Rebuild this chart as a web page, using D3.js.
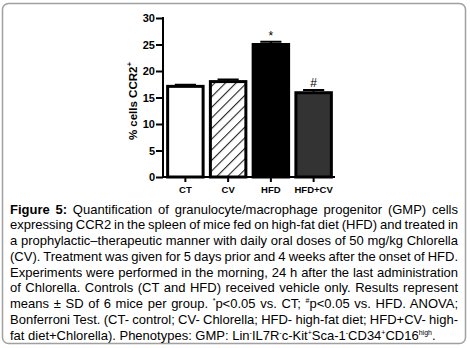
<!DOCTYPE html>
<html>
<head>
<meta charset="utf-8">
<script src="https://cdn.jsdelivr.net/npm/d3@7"></script>
<style>
  body { margin: 0; background: #fff; }
  #wrap { position: relative; width: 470px; height: 348px; overflow: hidden; }
  svg { position: absolute; left: 0; top: 0; }
  #caption { position: absolute; left: 10px; top: 201.5px; width: 448px;
    font-family: Arial, "Liberation Sans", sans-serif; font-size: 13px; line-height: 15.8px; color: #000; }
  #caption div { white-space: nowrap; }
  #caption span { display: inline-block; }
  #caption sup { font-size: 7px; vertical-align: 5px; line-height: 0; }
</style>
</head>
<body>
<div id="wrap"></div>
<script>
// values
const categories = ["CT", "CV", "HFD", "HFD+CV"]
const means = [17.1, 18.0, 25.0, 15.9]
const sds = [0.3, 0.4, 0.5, 0.5]
const marks = ["", "", "*", "#"]
const yTicks = [0, 5, 10, 15, 20, 25, 30]

const captionLines = [
    "<b>Figure 5:</b> Quantification of granulocyte/macrophage progenitor (GMP) cells",
    "expressing CCR2 in the spleen of mice fed on high-fat diet (HFD) and treated in",
    "a prophylactic–therapeutic manner with daily oral doses of 50 mg/kg Chlorella",
    "(CV). Treatment was given for 5 days prior and 4 weeks after the onset of HFD.",
    "Experiments were performed in the morning, 24 h after the last administration",
    "of Chlorella. Controls (CT and HFD) received vehicle only. Results represent",
    "means ± SD of 6 mice per group. <sup>*</sup>p&lt;0.05 vs. CT; <sup>#</sup>p&lt;0.05 vs. HFD. ANOVA;",
    "Bonferroni Test. (CT- control; CV- Chlorella; HFD- high-fat diet; HFD+CV- high-",
    "fat diet+Chlorella). Phenotypes: GMP: Lin<sup>-</sup>IL7R<sup>-</sup>c-Kit<sup>+</sup>Sca-1<sup>-</sup>CD34<sup>+</sup>CD16<sup>high</sup>."
]

const fills = ["#fff", "url(#hatch)", "#000", "#333"]

const width = 470, height = 348
const font = "Arial, 'Liberation Sans', sans-serif"
const wrap = d3.select("#wrap")
const svg = wrap.append("svg").attr("width", width).attr("height", height)

// frame
svg.append("rect")
    .attr("x", 2.5).attr("y", 3.5)
    .attr("width", 463).attr("height", 340)
    .attr("rx", 6)
    .attr("fill", "none")
    .attr("stroke", "#a0a0a0")
    .attr("stroke-width", 1.5)

const defs = svg.append("defs")
const pat = defs.append("pattern")
    .attr("id", "hatch")
    .attr("patternUnits", "userSpaceOnUse")
    .attr("width", 7.5).attr("height", 7.5)
    .attr("patternTransform", "rotate(45)")
pat.append("rect").attr("width", 7.5).attr("height", 7.5).attr("fill", "#fff")
pat.append("line")
    .attr("x1", 0).attr("y1", 0).attr("x2", 0).attr("y2", 7.5)
    .attr("stroke", "#222").attr("stroke-width", 2.2)

const y = d3.scaleLinear().domain([0, 30]).range([177, 18])
const x = d3.scaleBand()
    .domain(categories)
    .range([164, 335])
    .paddingInner(0.1)
    .paddingOuter(0.05)

const g = svg.append("g")

// bars
g.selectAll(".bar")
    .data(categories)
    .join("rect")
        .attr("class", "bar")
        .attr("x", d => x(d) + 1.5)
        .attr("width", x.bandwidth() - 3)
        .attr("y", (d, i) => y(means[i]))
        .attr("height", (d, i) => y(0) - y(means[i]))
        .attr("fill", (d, i) => fills[i])
        .attr("stroke", "#000")
        .attr("stroke-width", 3)

// error bars (upper SD only)
const capW = x.bandwidth() * 0.55
g.selectAll(".err")
    .data(categories)
    .join("path")
        .attr("class", "err")
        .attr("d", (d, i) => {
            const cx = x(d) + x.bandwidth() / 2
            const top = y(means[i] + sds[i])
            return `M${cx},${y(means[i])}V${top}M${cx - capW / 2},${top}H${cx + capW / 2}`
        })
        .attr("fill", "none")
        .attr("stroke", "#000")
        .attr("stroke-width", 2)

// significance marks
g.selectAll(".mark")
    .data(categories)
    .join("text")
        .attr("class", "mark")
        .attr("x", d => x(d) + x.bandwidth() / 2)
        .attr("y", (d, i) => y(means[i] + sds[i]) - (marks[i] === "*" ? 2 : 3))
        .attr("text-anchor", "middle")
        .attr("font-family", font)
        .attr("font-size", 12)
        .attr("fill", "#000")
        .text((d, i) => marks[i])

// axes
const yAxis = svg.append("g")
    .attr("transform", "translate(163,0)")
    .call(d3.axisLeft(y).tickValues(yTicks).tickSize(7).tickPadding(1).tickSizeOuter(0))
const xAxis = svg.append("g")
    .attr("transform", "translate(0,177)")
    .call(d3.axisBottom(x).tickSize(5).tickPadding(4).tickSizeOuter(0))

svg.selectAll(".domain, .tick line")
    .attr("stroke", "#000")
    .attr("stroke-width", 2)
yAxis.select(".domain").attr("d", "M0,177V17")
xAxis.select(".domain").attr("d", "M162,0H335")
svg.selectAll(".tick text")
    .attr("font-family", font)
    .attr("font-weight", "bold")
    .attr("fill", "#000")
yAxis.selectAll(".tick text").attr("font-size", 11)
xAxis.selectAll(".tick text").attr("font-size", 9.5)

// y label
const yl = svg.append("text")
    .attr("transform", "translate(137,101) rotate(-90)")
    .attr("text-anchor", "middle")
    .attr("font-family", font)
    .attr("font-weight", "bold")
    .attr("font-size", 11.5)
    .attr("fill", "#000")
yl.append("tspan").text("% cells CCR2")
yl.append("tspan").attr("font-size", 8).attr("dy", -5).text("+")

// caption, each line justified to the box width by hand
const capW0 = 448
wrap.append("div")
    .attr("id", "caption")
    .selectAll("div")
    .data(captionLines)
    .join("div")
    .append("span")
        .html(d => d)
        .each(function (d, i) {
            if (i === captionLines.length - 1) return
            const spaces = (this.textContent.match(/ /g) || []).length
            const w = this.getBoundingClientRect().width
            if (spaces > 0) d3.select(this).style("word-spacing", ((capW0 - w) / spaces) + "px")
        })
</script>
</body>
</html>
